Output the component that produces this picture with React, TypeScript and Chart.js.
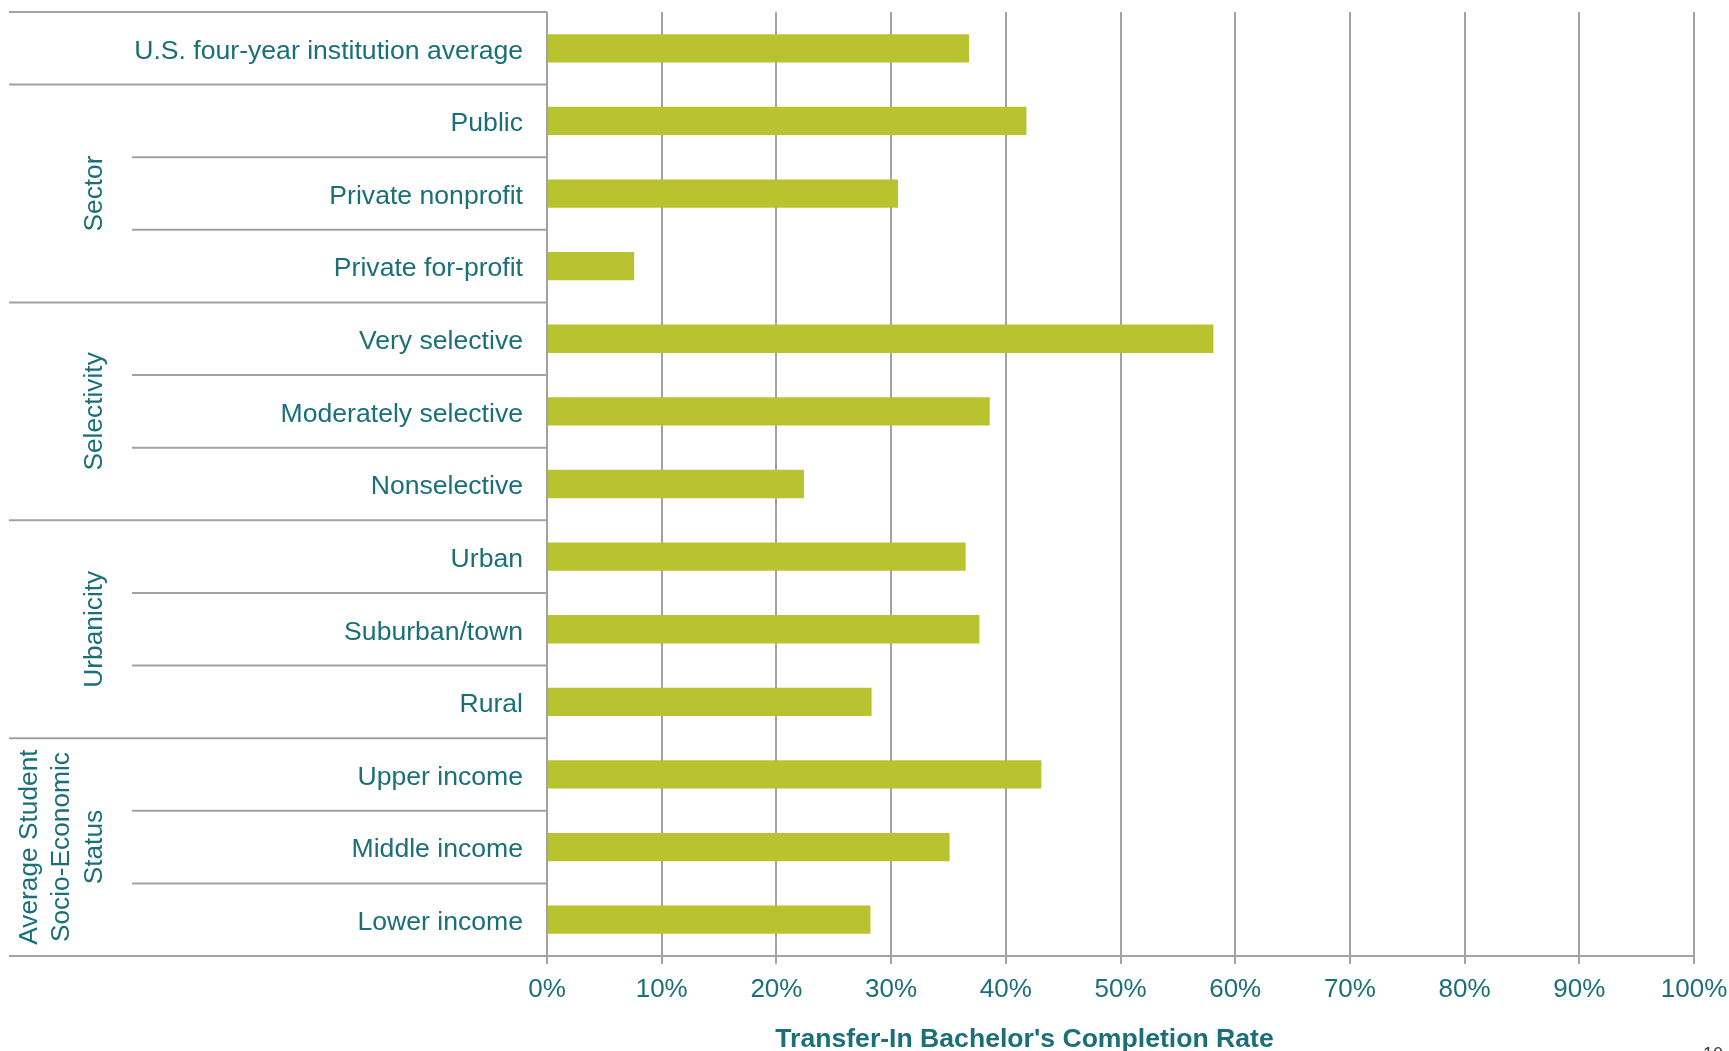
import React, { useEffect, useRef } from "react";
import { Chart, registerables } from "chart.js";

Chart.register(...registerables);

const categories = [
  "U.S. four-year institution average",
  "Public",
  "Private nonprofit",
  "Private for-profit",
  "Very selective",
  "Moderately selective",
  "Nonselective",
  "Urban",
  "Suburban/town",
  "Rural",
  "Upper income",
  "Middle income",
  "Lower income",
];

const completionRates = [36.8, 41.8, 30.6, 7.6, 58.1, 38.6, 22.4, 36.5, 37.7, 28.3, 43.1, 35.1, 28.2];

const groupLabels = [[], ["Sector"], ["Selectivity"], ["Urbanicity"], ["Average Student", "Socio-Economic", "Status"]];
const groupFirstIndex = [0, 1, 4, 7, 10];
const groupLastIndex = [0, 3, 6, 9, 12];

const axisTitle = "Transfer-In Bachelor's Completion Rate";
const pageNumber = "10";

const TEAL = "#1a6f78";
const GRID = "#a2a2a2";
const BAR = "#b9c330";
const FONT = '"Liberation Sans", Arial, sans-serif';

const decorPlugin = {
  id: "decor",
  afterDraw(chart: any) {
    const { ctx, chartArea, scales } = chart;
    const y = scales.y;
    const n = categories.length;
    const step = y.getPixelForValue(1) - y.getPixelForValue(0);
    ctx.save();
    ctx.strokeStyle = GRID;
    ctx.lineWidth = 2;
    for (let i = 0; i <= n; i++) {
      const yy = y.getPixelForValue(i) - step / 2;
      const isGroup = groupFirstIndex.includes(i) || i === n;
      const x0 = isGroup ? 9 : 132;
      ctx.beginPath();
      ctx.moveTo(x0, yy);
      ctx.lineTo(chartArea.left, yy);
      ctx.stroke();
    }
    ctx.fillStyle = TEAL;
    ctx.font = `26.6px ${FONT}`;
    ctx.textAlign = "right";
    ctx.textBaseline = "middle";
    categories.forEach((c, i) => {
      ctx.fillText(c, chartArea.left - 24, y.getPixelForValue(i) + 3);
    });
    ctx.font = `26.3px ${FONT}`;
    ctx.textAlign = "center";
    groupLabels.forEach((lines, g) => {
      const yc = (y.getPixelForValue(groupFirstIndex[g]) + y.getPixelForValue(groupLastIndex[g])) / 2;
      lines.forEach((t, k) => {
        const x = 94.5 - (lines.length - 1 - k) * 32.5;
        ctx.save();
        ctx.translate(x, yc);
        ctx.rotate(-Math.PI / 2);
        ctx.fillText(t, 0, 0);
        ctx.restore();
      });
    });
    ctx.font = `bold 26.6px ${FONT}`;
    ctx.fillText(axisTitle, 1024.5, 1040);
    ctx.fillStyle = "#333333";
    ctx.font = `18px ${FONT}`;
    ctx.textAlign = "left";
    ctx.textBaseline = "top";
    ctx.fillText(pageNumber, 1703, 1046);
    ctx.restore();
  },
};

export default function App() {
  const ref = useRef<HTMLCanvasElement>(null);
  useEffect(() => {
    if (!ref.current) return;
    const chart = new Chart(ref.current, {
      type: "bar",
      data: {
        labels: categories,
        datasets: [
          {
            data: completionRates,
            backgroundColor: BAR,
            barPercentage: 0.39,
            categoryPercentage: 1,
          },
        ],
      },
      options: {
        indexAxis: "y",
        responsive: false,
        animation: false,
        layout: { padding: { left: 547, right: 35, top: 12, bottom: 0 } },
        plugins: { legend: { display: false }, tooltip: { enabled: false } },
        scales: {
          x: {
            min: 0,
            max: 100,
            ticks: {
              stepSize: 10,
              callback: (v: any) => v + "%",
              color: TEAL,
              font: { family: FONT, size: 26, lineHeight: 2 },
              padding: 0,
              maxRotation: 0,
              autoSkip: false,
            },
            grid: { color: GRID, lineWidth: 2, tickLength: 8, tickColor: GRID },
            border: { color: GRID, width: 2 },
            afterFit: (s: any) => {
              s.height = 95;
            },
          },
          y: {
            display: false,
          },
        },
      },
      plugins: [decorPlugin],
    });
    return () => chart.destroy();
  }, []);
  return (
    <div style={{ position: "fixed", left: 0, top: 0, width: 1729, height: 1051, background: "#fff" }}>
      <canvas ref={ref} width={1729} height={1051} style={{ display: "block" }} />
    </div>
  );
}
